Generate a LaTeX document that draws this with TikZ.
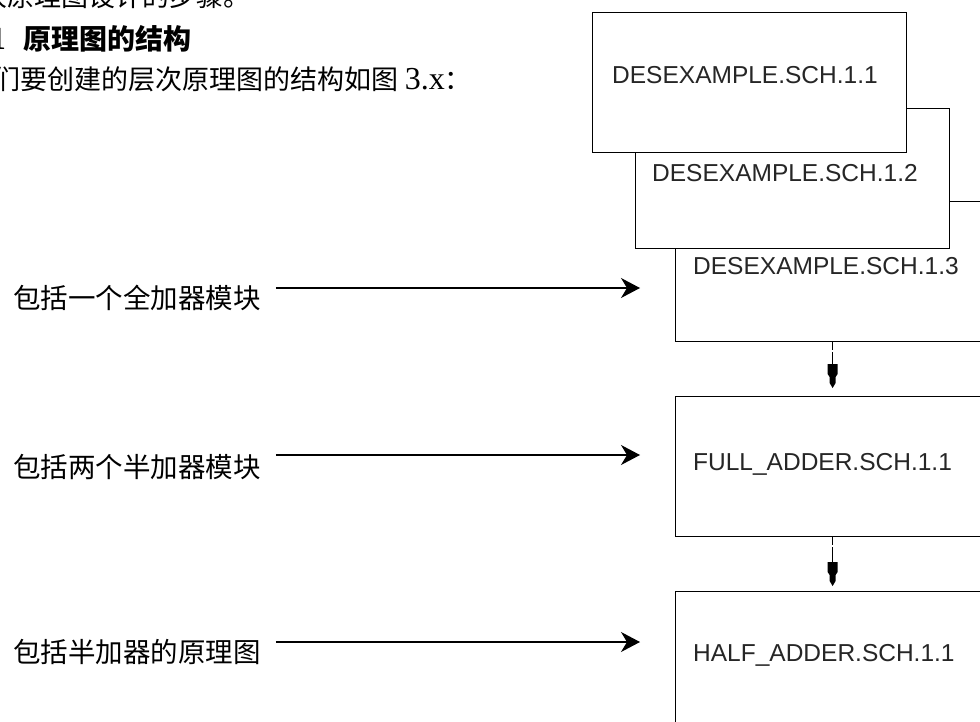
\documentclass[tikz,border=0pt]{standalone}
\usepackage{fontspec}
\setmainfont{Liberation Serif}
\newfontfamily\cjk{Noto Sans CJK SC}
\newfontfamily\arialf{Liberation Sans}
\usetikzlibrary{arrows.meta,calc}
\begin{document}
\begin{tikzpicture}[x=1pt,y=-1pt,
  box/.style={draw, line width=1.2pt, fill=white, minimum width=314pt, minimum height=140pt, anchor=north west, inner sep=0pt},
  boxtext/.style={font=\arialf\fontsize{24.5}{28}\selectfont, text=black!85, anchor=base west, inner sep=0pt},
  lab/.style={font=\cjk\fontsize{27.5}{30}\selectfont, anchor=base west, inner sep=0pt},
  body/.style={font=\fontsize{27}{30}\selectfont, anchor=base west, inner sep=0pt},
  arr/.style={line width=1.2pt, -{Stealth[length=19pt,width=20pt,inset=6pt]}},
  conn/.style={line width=1.2pt},
  blockarrow/.pic={\fill (-5,-24) -- (5,-24) -- (5,-14) -- (3,-11) -- (3,-5) -- (0,0) -- (-3,-5) -- (-3,-11) -- (-5,-14) -- cycle;}
  ]
\useasboundingbox (0,0) rectangle (980,722);
\clip (0,0) rectangle (980,722);

% header text (cut off at the page edges, as in the reference)
\node[body] (p1) at (-20,7) {\cjk 次原理图设计的步骤。};
\node[body, anchor=base east, font=\bfseries\fontsize{32}{34}\selectfont] (h0) at (6,50) {1};
\node[body, font=\cjk\bfseries\fontsize{28}{30}\selectfont] (h1) at (23,50) {原理图的结构};
\node[body] (p3) at (-7,90) {{\cjk 们要创建的层次原理图的结构如图}\ {\fontsize{32}{34}\selectfont 3.x}{\cjk ：}};

% boxes
\node[box] (b3) at (675,201) {};
\node[box] (b2) at (635,108) {};
\node[box] (b1) at (592,12) {};
\node[box] (b4) at (675,396) {};
\node[box] (b5) at (675,591) {};

\node[boxtext] (t1) at (612,84) {DESEXAMPLE.SCH.1.1};
\node[boxtext] (t2) at (652,182) {DESEXAMPLE.SCH.1.2};
\node[boxtext] (t3) at (693,274) {DESEXAMPLE.SCH.1.3};
\node[boxtext] (t4) at (693,470) {FULL\_ADDER.SCH.1.1};
\node[boxtext] (t5) at (693,661) {HALF\_ADDER.SCH.1.1};

% vertical connectors
\coordinate (k1) at ($(b4.north)+(0,-8)$);
\coordinate (k2) at ($(b5.north)+(0,-5)$);
\draw[conn] (b3.south) -- ++(0,8) ++(0,2) -- ($(k1)+(0,-23)$);
\pic at (k1) {blockarrow};
\draw[conn] (b4.south) -- ++(0,8) ++(0,2) -- ($(k2)+(0,-23)$);
\pic at (k2) {blockarrow};

% labels and arrows
\node[lab] (l1) at (13,308.5) {包括一个全加器模块};
\node[lab] (l2) at (13,477.5) {包括两个半加器模块};
\node[lab] (l3) at (13,662.5) {包括半加器的原理图};
\coordinate (e1) at (640,288);
\coordinate (e2) at (640,455);
\coordinate (e3) at (640,642);
\draw[arr] ([xshift=15pt]l1.east |- e1) -- (e1);
\draw[arr] ([xshift=15pt]l2.east |- e2) -- (e2);
\draw[arr] ([xshift=15pt]l3.east |- e3) -- (e3);
\end{tikzpicture}
\end{document}
